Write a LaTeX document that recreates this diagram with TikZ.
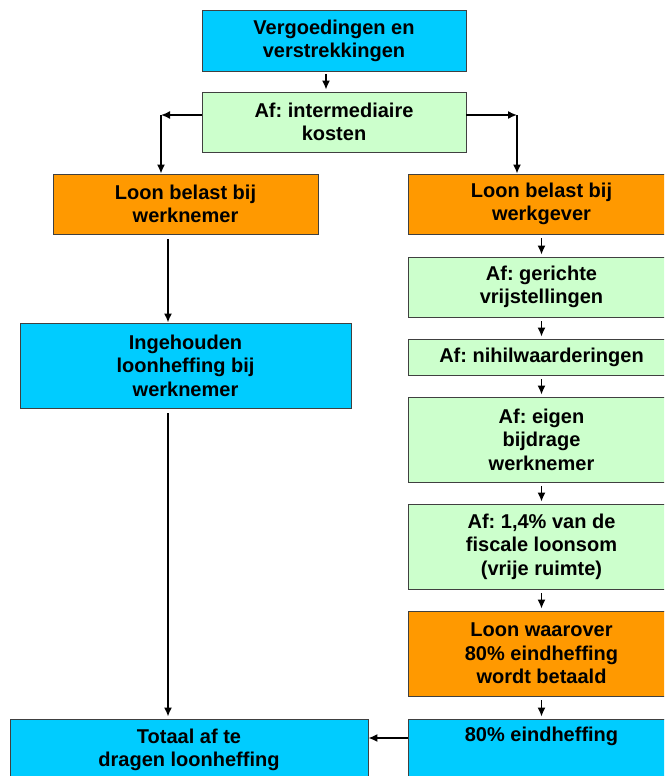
\documentclass[tikz,border=0pt]{standalone}
\usepackage{fontspec}
\setmainfont{Liberation Sans}
\usetikzlibrary{arrows.meta}
\frenchspacing

\definecolor{blauw}{HTML}{00CCFF}
\definecolor{groen}{HTML}{CCFFCC}
\definecolor{oranje}{HTML}{FF9900}

\tikzstyle{blok} = [
	draw = black!75,
	line width = 0.8pt,
	align = center,
	inner sep = 0pt,
	font = \fontsize{20}{23.5}\selectfont\bfseries
	]

\begin{document}
\begin{tikzpicture}[
	x = 1pt,
	y = -1pt,
	>={Latex[length=9pt,width=8pt]},
	pijl/.style = {
	->,
	line width = 1.6pt
	}
	]
	\clip (0,0) rectangle (664,776);

	% bovenste blokken
	\node[blok, fill=blauw, minimum width=264pt, minimum height=61pt] (verg) at (334,41) {Vergoedingen en\\verstrekkingen};
	\node[blok, fill=groen, minimum width=264pt, minimum height=60pt] (inter) at (334,122) {Af: intermediaire\\kosten};

	% linker kolom
	\node[blok, fill=oranje, minimum width=265pt, minimum height=60pt] (wnemer) at (185.5,204) {Loon belast bij\\werknemer};
	\node[blok, fill=blauw, minimum width=331pt, minimum height=85pt] (ingeh) at (185.5,365.5) {Ingehouden\\loonheffing bij\\werknemer};
	\node[blok, fill=blauw, minimum width=358pt, minimum height=62pt] (totaal) at (189,750) {Totaal af te\\dragen loonheffing};

	% rechter kolom
	\node[blok, fill=oranje, minimum width=267pt, minimum height=60pt] (wgever) at (541.5,204) {Loon belast bij\\werkgever};
	\node[blok, fill=groen, minimum width=267pt, minimum height=60pt] (gericht) at (541.5,287) {Af: gerichte\\vrijstellingen};
	\node[blok, fill=groen, minimum width=267pt, minimum height=36pt] (nihil) at (541.5,357) {Af: nihilwaarderingen};
	\node[blok, fill=groen, minimum width=267pt, minimum height=85pt] (eigen) at (541.5,439.5) {Af: eigen\\bijdrage\\werknemer};
	\node[blok, fill=groen, minimum width=267pt, minimum height=85pt] (ruimte) at (541.5,546.5) {Af: 1,4\% van de\\fiscale loonsom\\(vrije ruimte)};
	\node[blok, fill=oranje, minimum width=267pt, minimum height=85pt] (waarover) at (541.5,653.5) {Loon waarover\\80\% eindheffing\\wordt betaald};
	\node[blok, fill=blauw, minimum width=267pt, minimum height=62pt] (eind) at (541.5,750) {80\% eindheffing\\\strut};

	\coordinate (hoekL) at (161,115);
	\coordinate (hoekR) at (517,115);

	\draw[pijl, shorten <=2pt, shorten >=2pt] ([xshift=-8pt]verg.south) -- ([xshift=-8pt]inter.north);
	\draw[pijl] (inter.west |- hoekL) -- (hoekL);
	\draw[pijl] (hoekL) -- (hoekL |- wnemer.north);
	\draw[pijl] (inter.east |- hoekR) -- (hoekR);
	\draw[pijl] (hoekR) -- (hoekR |- wgever.north);

	\draw[pijl, line width=2pt, shorten <=5pt] ([xshift=-17.5pt]wnemer.south) -- ([xshift=-17.5pt]ingeh.north);
	\draw[pijl, line width=2pt, shorten <=5pt, shorten >=2pt] ([xshift=-17.5pt]ingeh.south) -- ([xshift=-21pt]totaal.north);

	\draw[pijl, shorten <=4pt, shorten >=2pt] (wgever) -- (gericht);
	\draw[pijl, shorten <=4pt, shorten >=2pt] (gericht) -- (nihil);
	\draw[pijl, shorten <=4pt, shorten >=2pt] (nihil) -- (eigen);
	\draw[pijl, shorten <=4pt, shorten >=2pt] (eigen) -- (ruimte);
	\draw[pijl, shorten <=4pt, shorten >=2pt] (ruimte) -- (waarover);
	\draw[pijl, shorten <=4pt, shorten >=2pt] (waarover) -- (eind);

	\draw[pijl] ([yshift=12pt]eind.west) -- ([yshift=12pt]totaal.east);
\end{tikzpicture}
\end{document}
